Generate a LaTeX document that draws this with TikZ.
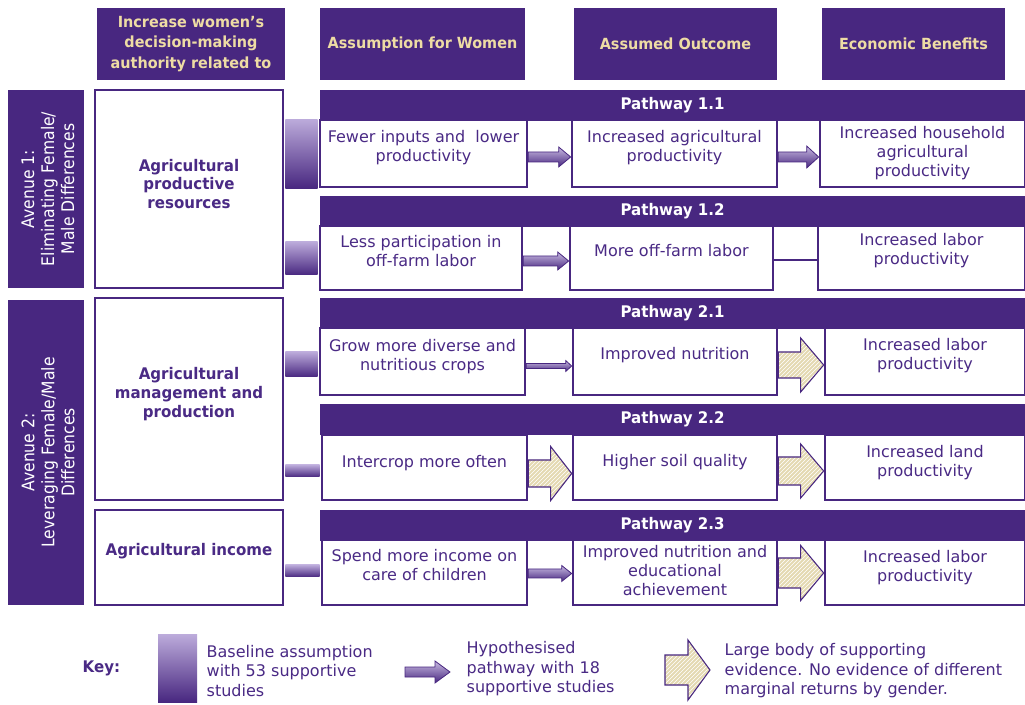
\documentclass[tikz,border=0pt]{standalone}
\usepackage{fontspec}
\setmainfont{DejaVu Sans}
\newfontfamily\semi{DejaVu Sans}[FakeStretch=0.94]
\newfontfamily\cnd{DejaVu Sans}[FakeStretch=0.9]
\usetikzlibrary{calc,fit,patterns}
\definecolor{dp}{HTML}{482780}
\definecolor{tp}{HTML}{4A2A85}
\definecolor{lav}{HTML}{BBAADA}
\definecolor{gold}{HTML}{EEDCA4}
\definecolor{beige}{HTML}{E4D9B2}
\newcommand\wbox[5][0]{%
  \node[wbox, fit={(#2)(#3)}] (#4) {};
  \node[wtxt] (#4t) at ($(#4.center)+(0,#1)$) {#5};}
% block arrow: #1 style, #2 from, #3 to, #4 y px, #5 shaft half, #6 head half, #7 head length
\newcommand\barrow[7]{%
  \path[#1] let \p1=(#2.east), \p2=(#3.west), \p3=(0,#4) in
   ({\x1},{\y3+#5*0.75pt}) -- ({\x2-#7*0.75pt},{\y3+#5*0.75pt}) --
   ({\x2-#7*0.75pt},{\y3+#6*0.75pt}) -- ({\x2},{\y3}) --
   ({\x2-#7*0.75pt},{\y3-#6*0.75pt}) -- ({\x2-#7*0.75pt},{\y3-#5*0.75pt}) --
   ({\x1},{\y3-#5*0.75pt}) -- cycle;}
\begin{document}
\begin{tikzpicture}[x=0.75pt,y=-0.75pt,
  hdr/.style={fill=dp, inner sep=0pt},
  hdrtxt/.style={text=gold, align=center, font=\fontsize{11.5}{15.2}\selectfont\semi\bfseries},
  avbox/.style={fill=dp, inner sep=0pt},
  avtxt/.style={text=white, align=center, rotate=90, font=\fontsize{13}{15}\selectfont\cnd},
  pbar/.style={fill=dp, inner sep=0pt},
  ptxt/.style={text=white, font=\fontsize{12}{14}\selectfont\semi\bfseries},
  wbox/.style={draw=dp, fill=white, line width=2pt, inner sep=0pt},
  wtxt/.style={text=tp, align=center, font=\fontsize{12}{14.2}\selectfont},
  ltxt/.style={text=tp, align=center, font=\fontsize{12}{14.2}\selectfont\semi\bfseries},
  gbar/.style={top color=lav, bottom color=dp},
  garrow/.style={top color=lav!80!white, bottom color=dp, draw=dp, line width=0.6pt},
  sarrow/.style={preaction={fill=beige}, pattern=north east lines, pattern color=white, draw=dp, line width=0.8pt},
  keytxt/.style={text=tp, align=left, anchor=west, font=\fontsize{12}{14.6}\selectfont}
]
\useasboundingbox (0,0) rectangle (1025,705);
\fill[white] (0,0) rectangle (1025,705);

% headers
\node[hdr, fit={(97,8)(285,80)}] (H0) {};
\node[hdrtxt] (H0t) at (H0) {Increase women’s\\decision-making\\authority related to};
\node[hdr, fit={(320,8)(525,80)}] (H1) {};
\node[hdrtxt] (H1t) at (H1) {Assumption for Women};
\node[hdr, fit={(574,8)(777,80)}] (H2) {};
\node[hdrtxt] (H2t) at (H2) {Assumed Outcome};
\node[hdr, fit={(822,8)(1005,80)}] (H3) {};
\node[hdrtxt] (H3t) at (H3) {Economic Benefits};

% avenues
\node[avbox, fit={(8,90)(84,288)}] (AV1) {};
\node[avtxt] (AV1t) at ($(AV1)+(2,0)$) {Avenue 1:\\Eliminating Female/\\Male Differences};
\node[avbox, fit={(8,300)(84,605)}] (AV2) {};
\node[avtxt] (AV2t) at ($(AV2)+(2,0)$) {Avenue 2:\\Leveraging Female/Male\\Differences};

% left boxes
\node[wbox, fit={(95,90)(283,288)}] (L1) {};
\node[ltxt] (L1t) at ($(L1)+(0,-5)$) {Agricultural\\productive\\resources};
\node[wbox, fit={(95,298)(283,500)}] (L2) {};
\node[ltxt] (L2t) at ($(L2)+(0,-5)$) {Agricultural\\management and\\production};
\node[wbox, fit={(95,510)(283,605)}] (L3) {};
\node[ltxt] (L3t) at ($(L3)+(0,-6)$) {Agricultural income};

% pathway bars
\node[pbar, fit={(320,90)(1025,121)}] (P11) {};
\node[ptxt] (P11t) at (P11) {Pathway 1.1};
\node[pbar, fit={(320,196)(1025,227)}] (P12) {};
\node[ptxt] (P12t) at (P12) {Pathway 1.2};
\node[pbar, fit={(320,298)(1025,329)}] (P21) {};
\node[ptxt] (P21t) at (P21) {Pathway 2.1};
\node[pbar, fit={(320,404)(1025,435)}] (P22) {};
\node[ptxt] (P22t) at (P22) {Pathway 2.2};
\node[pbar, fit={(320,510)(1025,541)}] (P23) {};
\node[ptxt] (P23t) at (P23) {Pathway 2.3};

% pathway 1.1
\wbox[-6]{320,120}{527,187}{A11}{Fewer inputs and\ \ lower\\productivity}
\wbox[-6]{572,120}{777,187}{B11}{Increased agricultural\\productivity}
\wbox[0]{820,120}{1025,187}{C11}{Increased household\\agricultural\\productivity}
% pathway 1.2
\wbox[-7]{320,226}{522,290}{A12}{Less participation in\\off-farm labor}
\wbox[-7]{570,226}{773,290}{B12}{More off-farm labor}
\wbox[-7]{818,226}{1025,290}{C12}{Increased labor\\productivity}
% pathway 2.1
\wbox[-5]{320,328}{525,395}{A21}{Grow more diverse and\\nutritious crops}
\wbox[-6]{573,328}{777,395}{B21}{Improved nutrition}
\wbox[-6]{825,328}{1025,395}{C21}{Increased labor\\productivity}
% pathway 2.2
\wbox[-4]{322,435}{527,500}{A22}{Intercrop more often}
\wbox[-5]{573,435}{777,500}{B22}{Higher soil quality}
\wbox[-5]{825,435}{1025,500}{C22}{Increased land\\productivity}
% pathway 2.3
\wbox[-7]{322,540}{527,605}{A23}{Spend more income on\\care of children}
\wbox[-2]{573,540}{777,605}{B23}{Improved nutrition and\\educational\\achievement}
\wbox[-5]{825,540}{1025,605}{C23}{Increased labor\\productivity}

% baseline gradient bars
\shade[gbar] ($(L1.east|-A11.north)+(1,1)$) rectangle ($(A11.south west)+(-1,0)$);
\shade[gbar] ($(L1.east|-A12.center)+(1,-16)$) rectangle ($(A12.west)+(-1,17)$);
\shade[gbar] ($(L2.east|-A21.center)+(1,-9.5)$) rectangle ($(A21.west)+(-1,15.5)$);
\shade[gbar] ($(L2.east|-A22.center)+(1,-2.5)$) rectangle ($(A22.west)+(-1,9.5)$);
\shade[gbar] ($(L3.east|-A23.center)+(1,-7.5)$) rectangle ($(A23.west)+(-1,4.5)$);

% hypothesised arrows
\barrow{garrow}{A11}{B11}{157}{5}{10}{12}
\barrow{garrow}{B11}{C11}{157}{5}{11}{12}
\barrow{garrow}{A12}{B12}{261}{5}{9}{11}
\barrow{garrow}{A21}{B21}{366}{2.5}{5.5}{6}
\barrow{garrow}{A23}{B23}{573.5}{4.5}{8}{10}
\draw[dp, line width=1.2pt] ($(B12.east)+(0,2)$) -- ($(C12.west)+(0,2)$);

% evidence arrows
\barrow{sarrow}{B21}{C21}{365}{13}{27}{23}
\barrow{sarrow}{A22}{B22}{473.5}{13.5}{27}{21}
\barrow{sarrow}{B22}{C22}{471}{14}{27}{23}
\barrow{sarrow}{B23}{C23}{573}{15}{27.5}{23}

% key
\node[text=tp, anchor=west, font=\fontsize{12}{14}\selectfont\semi\bfseries] (K0) at (78,668) {Key:};
\shade[gbar] (158,635) rectangle (197,702);
\node[keytxt] (K1) at (202,671) {Baseline assumption\\with 53 supportive\\studies};
\path[garrow] (405,667) -- (435,667) -- (435,661) -- (450,672) -- (435,683) -- (435,677) -- (405,677) -- cycle;
\node[keytxt] (K2) at (462,669) {Hypothesised\\pathway with 18\\supportive studies};
\path[sarrow] (665,655) -- (688,655) -- (688,640) -- (710,670) -- (688,700) -- (688,685) -- (665,685) -- cycle;
\node[keytxt] (K3) at (720,671) {Large body of supporting\\evidence. No evidence of different\\marginal returns by gender.};
\end{tikzpicture}
\end{document}
